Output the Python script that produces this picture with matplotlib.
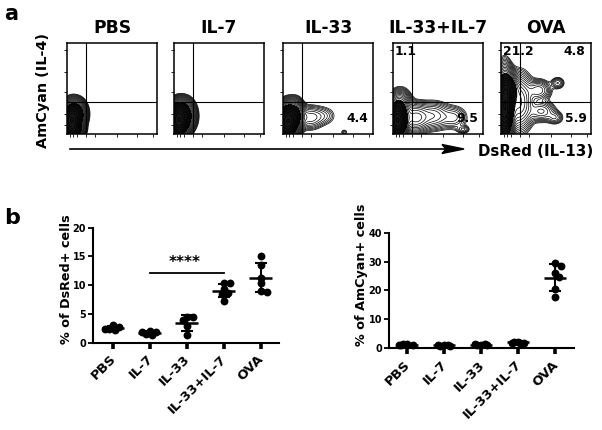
import numpy as np
import matplotlib
matplotlib.use('Agg')
import matplotlib.pyplot as plt
from matplotlib.transforms import ScaledTranslation

plt.rcParams['font.family'] = ['DejaVu Sans']
plt.rcParams['font.weight'] = 'bold'

# ---------------- data ----------------
groups = ['PBS', 'IL-7', 'IL-33', 'IL-33+IL-7', 'OVA']

# panel a: flow-cytometry density shapes, blobs (x, y, sx, sy, weight) in gate-fraction units
flow_pbs = [(0.05, 0.15, 0.05, 0.085, 1.0), (0.11, 0.22, 0.05, 0.07, 0.3), (0.08, 0.05, 0.05, 0.04, 0.3)]
flow_il7 = [(0.05, 0.15, 0.05, 0.085, 1.0), (0.12, 0.20, 0.055, 0.08, 0.3), (0.06, 0.29, 0.05, 0.05, 0.1)]
flow_il33 = [(0.05, 0.14, 0.05, 0.085, 1.0), (0.13, 0.20, 0.05, 0.08, 0.25), (0.30, 0.18, 0.08, 0.07, 0.03),
             (0.45, 0.20, 0.08, 0.06, 0.012), (0.68, 0.02, 0.025, 0.02, 0.008)]
flow_il33_il7 = [(0.05, 0.15, 0.05, 0.09, 1.0), (0.08, 0.32, 0.06, 0.08, 0.1), (0.25, 0.18, 0.08, 0.08, 0.08),
                 (0.45, 0.20, 0.10, 0.08, 0.04), (0.68, 0.18, 0.08, 0.07, 0.02), (0.78, 0.05, 0.04, 0.025, 0.015)]
flow_ova = [(0.04, 0.30, 0.045, 0.17, 1.0), (0.08, 0.50, 0.05, 0.08, 0.3), (0.20, 0.35, 0.08, 0.15, 0.10),
            (0.42, 0.48, 0.07, 0.06, 0.04), (0.63, 0.56, 0.04, 0.035, 0.02), (0.45, 0.25, 0.08, 0.06, 0.035),
            (0.60, 0.18, 0.05, 0.04, 0.018)]
flow_blobs = [flow_pbs, flow_il7, flow_il33, flow_il33_il7, flow_ova]

gate_x = 0.21
gate_y = 0.355

# quadrant percentages: (quadrant, text)
quad_pbs = []
quad_il7 = []
quad_il33 = [('LR', '4.4')]
quad_il33_il7 = [('UL', '1.1'), ('LR', '9.5')]
quad_ova = [('UL', '21.2'), ('UR', '4.8'), ('LR', '5.9')]
quad_values = [quad_pbs, quad_il7, quad_il33, quad_il33_il7, quad_ova]

# panel b: % of DsRed+ cells
dsred_pbs = [3.0, 2.8, 2.3, 2.2, 2.4]
dsred_il7 = [2.1, 1.9, 1.5, 1.4, 1.8]
dsred_il33 = [4.5, 4.4, 3.9, 1.3, 2.9]
dsred_il33_il7 = [10.4, 10.3, 9.3, 8.6, 8.5, 7.3]
dsred_ova = [15.0, 13.6, 11.2, 10.3, 9.0, 8.9]
dsred_data = [dsred_pbs, dsred_il7, dsred_il33, dsred_il33_il7, dsred_ova]
dsred_ticks = [0, 5, 10, 15, 20]

# panel b: % of AmCyan+ cells
amcyan_pbs = [1.5, 1.2, 1.0, 1.4, 1.3]
amcyan_il7 = [1.0, 0.8, 1.3, 1.2, 0.9]
amcyan_il33 = [1.3, 1.1, 1.5, 1.2, 1.4]
amcyan_il33_il7 = [2.2, 2.0, 1.8, 2.3, 1.9]
amcyan_ova = [29.4, 28.5, 25.9, 24.8, 20.4, 17.9]
amcyan_data = [amcyan_pbs, amcyan_il7, amcyan_il33, amcyan_il33_il7, amcyan_ova]
amcyan_ticks = [0, 10, 20, 30, 40]

sig_pair = (1, 3)
sig_text = '****'
sig_level = 12.1

# ---------------- figure ----------------
W, H = 602, 430
fig = plt.figure(figsize=(W / 100, H / 100), dpi=100)


def px_axes(l, t, w, h):
    return fig.add_axes([l / W, 1 - (t + h) / H, w / W, h / H])


# panel a
flow_lefts = [67, 174, 283, 393, 501]
grid = np.linspace(0, 1, 241)
GX, GY = np.meshgrid(grid, grid)
levels = np.geomspace(0.004, 0.97, 22)
quad_pos = {'UL': (0.02, 0.91, 'left'), 'UR': (0.94, 0.91, 'right'), 'LR': (0.95, 0.17, 'right')}

for name, left, blobs, quads in zip(groups, flow_lefts, flow_blobs, quad_values):
    ax = px_axes(left, 43, 90, 91)
    Z = np.zeros_like(GX)
    for (bx, by, sx, sy, w) in blobs:
        Z += w * np.exp(-0.5 * (((GX - bx) / sx) ** 2 + ((GY - by) / sy) ** 2))
    Z /= Z.max()
    ax.contourf(GX, GY, Z, levels=[0.13, 1.01], colors=['#161616'])
    ax.contour(GX, GY, Z, levels=levels, colors='black', linewidths=0.5)
    ax.axvline(gate_x, color='black', lw=0.8)
    ax.axhline(gate_y, color='black', lw=0.8)
    ax.set_xlim(0, 1)
    ax.set_ylim(0, 1)
    ax.set_xticks([0.03, 0.07, 0.11, 0.21, 0.31, 0.55, 0.78, 0.95])
    ax.set_yticks([0.10, 0.22, 0.46, 0.68, 0.92])
    ax.set_xticklabels([])
    ax.set_yticklabels([])
    ax.tick_params(length=2, width=0.6, direction='out')
    for s in ax.spines.values():
        s.set_linewidth(1.1)
    ax.set_title(name, fontsize=12.3, fontweight='bold', pad=7)
    for q, txt in quads:
        qx, qy, ha = quad_pos[q]
        ax.text(qx, qy, txt, transform=ax.transAxes, ha=ha, va='center',
                fontsize=8.8, fontweight='bold', zorder=5)

# overlay for labels / arrow
ov = fig.add_axes([0, 0, 1, 1])
ov.set_xlim(0, W)
ov.set_ylim(H, 0)
ov.axis('off')
ov.patch.set_alpha(0)
ov.plot([70, 450], [149, 149], color='black', lw=1.2)
ov.fill([442, 464, 442, 446], [144.5, 149, 153.5, 149], color='black')

fig.text(11 / W, 1 - 14 / H, 'a', fontsize=15, fontweight='bold', ha='center', va='center')
fig.text(12 / W, 1 - 218 / H, 'b', fontsize=16, fontweight='bold', ha='center', va='center')
fig.text(43 / W, 1 - 90 / H, 'AmCyan (IL-4)', rotation=90, fontsize=10.4,
         fontweight='bold', ha='center', va='center')
fig.text(536 / W, 1 - 152 / H, 'DsRed (IL-13)', fontsize=10.8,
         fontweight='bold', ha='center', va='center')


def swarm_offsets(vals, px_x, px_y, diam=5.0, step=2.0, max_off=8.5):
    placed = []
    offs = []
    cands = [0.0]
    n = 1
    while n * step <= max_off:
        cands += [n * step, -n * step]
        n += 1
    for v in vals:
        yv = v * px_y
        best, best_d = cands[0], -1.0
        for c in cands:
            d = min([np.hypot(c - a, yv - b) for a, b in placed] + [1e9])
            if d >= diam:
                best = c
                break
            if d > best_d:
                best, best_d = c, d
        placed.append((best, yv))
        offs.append(best / px_x)
    return offs


def dot_panel(ax, data, ticks, w_px, h_px, xlim):
    ax.set_xlim(*xlim)
    ax.set_ylim(ticks[0], ticks[-1])
    px_x = w_px / (xlim[1] - xlim[0])
    px_y = h_px / (ticks[-1] - ticks[0])
    for i, vals in enumerate(data):
        vals = np.asarray(vals, dtype=float)
        m = vals.mean()
        sd = vals.std(ddof=1)
        ax.plot([i - 0.3, i + 0.3], [m, m], color='black', lw=1.8, zorder=3,
                solid_capstyle='butt')
        ax.errorbar(i, m, yerr=sd, fmt='none', ecolor='black', elinewidth=1.5,
                    capsize=4, capthick=1.5, zorder=3)
        offs = swarm_offsets(vals, px_x, px_y)
        ax.scatter(i + np.asarray(offs), vals, s=32, color='black', zorder=4,
                   linewidths=0, clip_on=False)
    ax.spines['top'].set_visible(False)
    ax.spines['right'].set_visible(False)
    ax.spines['left'].set_linewidth(1.5)
    ax.spines['bottom'].set_linewidth(1.5)
    ax.set_yticks(ticks)
    ax.set_yticklabels([str(t) for t in ticks], fontsize=7, fontweight='bold')
    ax.tick_params(axis='y', length=3.5, width=1.3, pad=1.5)
    ax.set_xticks(range(len(groups)))
    ax.set_xticklabels(groups, rotation=45, ha='right', fontsize=9.5, fontweight='bold')
    ax.tick_params(axis='x', length=4, width=2.6, pad=3)
    off = ScaledTranslation(6 / 100, 0, fig.dpi_scale_trans)
    for lab in ax.get_xticklabels():
        lab.set_transform(lab.get_transform() + off)
    ax.patch.set_alpha(0)


axL = px_axes(93, 227.7, 186, 115)
dot_panel(axL, dsred_data, dsred_ticks, 186, 115, (-0.53, 4.5))
axL.plot([sig_pair[0], sig_pair[1]], [sig_level, sig_level], color='black', lw=1.3)
axL.text((sig_pair[0] + sig_pair[1]) / 2 - 0.05, sig_level + 1.9, sig_text, ha='center',
         va='center', fontsize=11, fontweight='bold')
fig.text(66 / W, 1 - 279 / H, '% of DsRed+ cells', rotation=90, fontsize=9.2,
         fontweight='bold', ha='center', va='center')

axR = px_axes(389, 232.7, 185, 115.6)
dot_panel(axR, amcyan_data, amcyan_ticks, 185, 115.6, (-0.49, 4.51))
fig.text(361 / W, 1 - 275 / H, '% of AmCyan+ cells', rotation=90, fontsize=9.2,
         fontweight='bold', ha='center', va='center')

fig.savefig('out.png', dpi=100)
